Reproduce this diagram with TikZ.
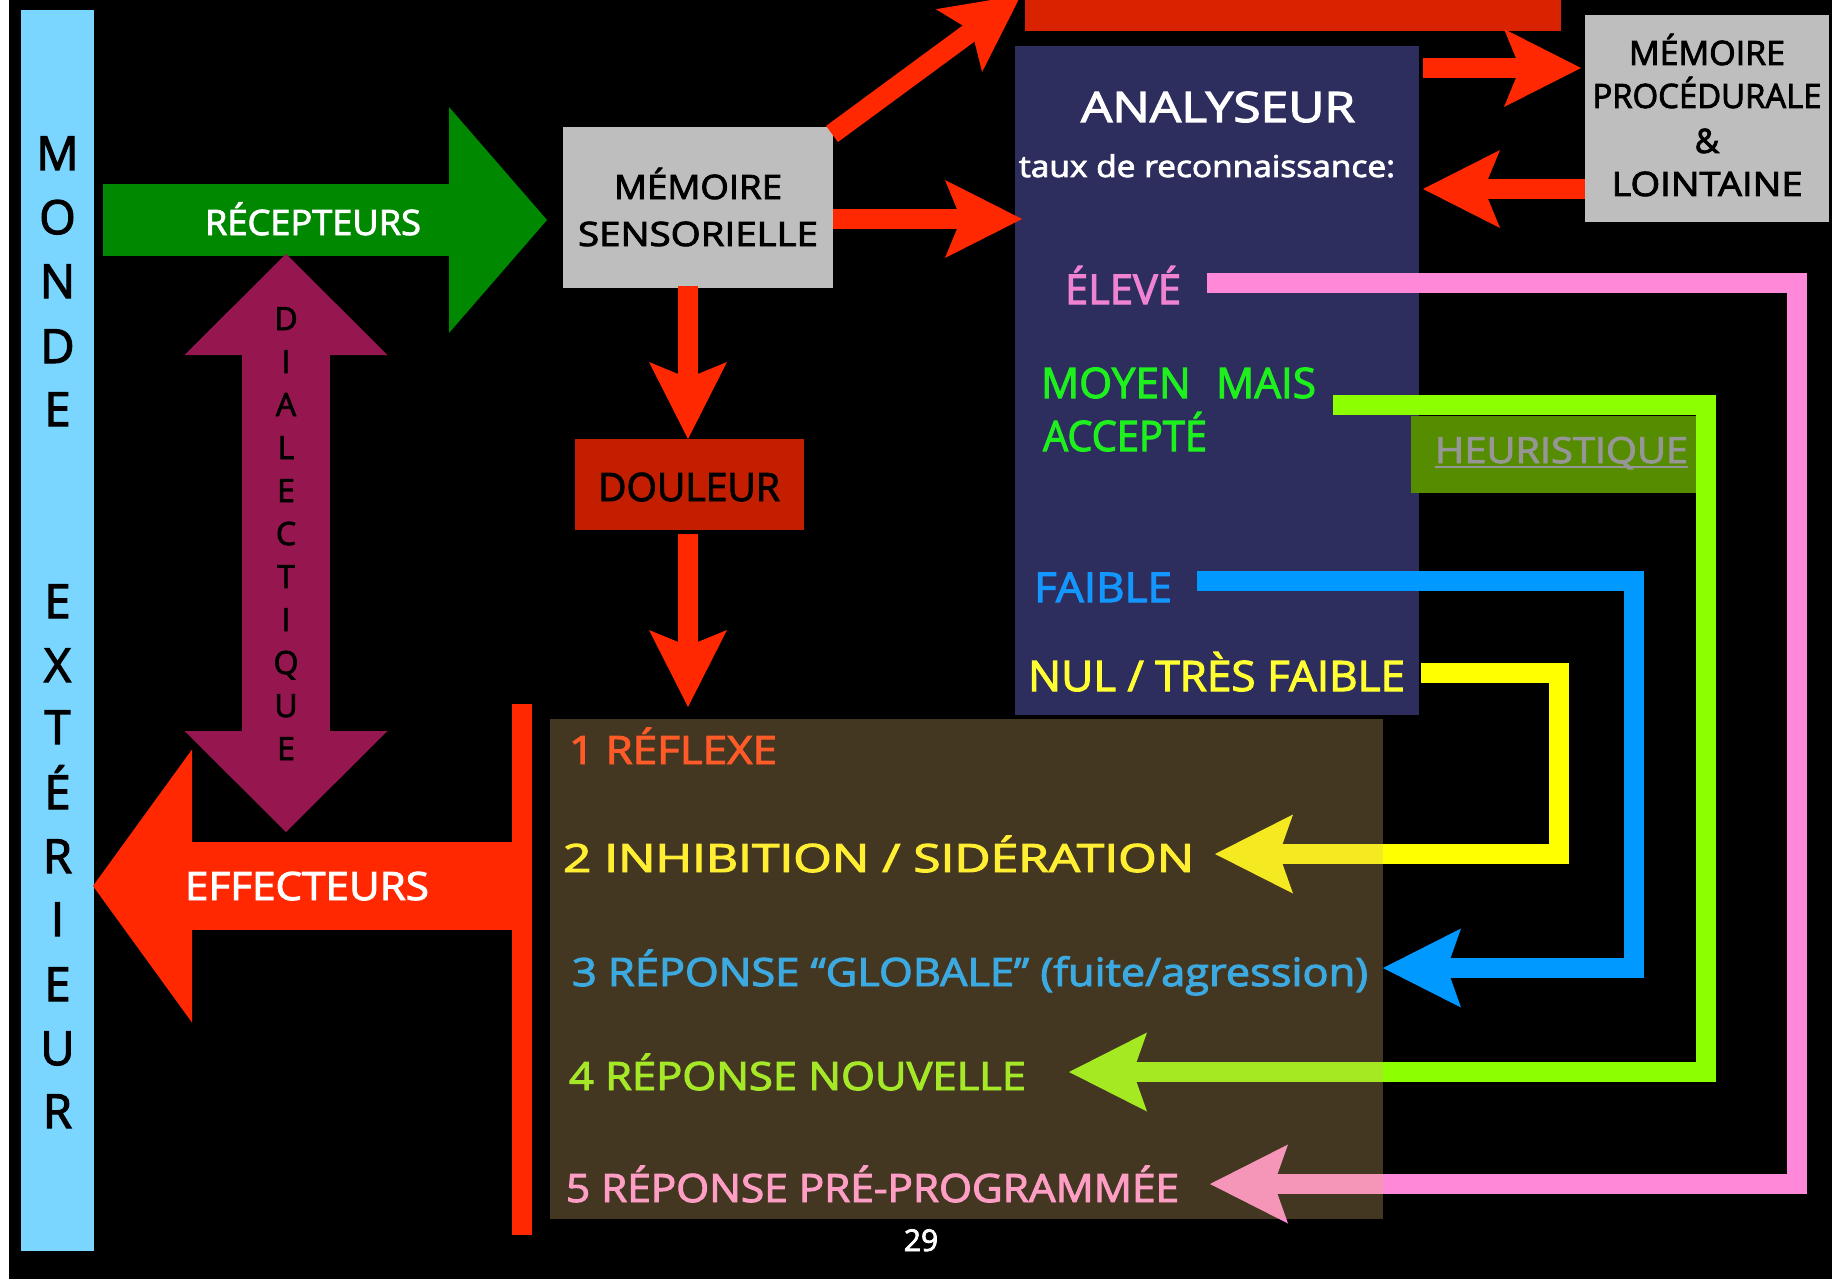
\documentclass[tikz,border=0pt]{standalone}
\usepackage{fontspec}
\setmainfont{Open Sans}[FakeBold=2.5]
\usepackage{graphicx}
\usetikzlibrary{arrows.meta,calc}
\definecolor{cblue}{RGB}{122,214,255}
\definecolor{cgreenA}{RGB}{0,136,0}
\definecolor{cgray}{RGB}{190,190,190}
\definecolor{cred}{RGB}{255,40,0}
\definecolor{cdoul}{RGB}{196,30,0}
\definecolor{ctop}{RGB}{217,35,0}
\definecolor{canal}{RGB}{46,46,94}
\definecolor{cpurple}{RGB}{150,22,80}
\definecolor{cpink}{RGB}{255,136,216}
\definecolor{clime}{RGB}{140,255,0}
\definecolor{cazure}{RGB}{0,153,255}
\definecolor{cyell}{RGB}{255,255,0}
\definecolor{cheur}{RGB}{85,140,0}
\definecolor{cheurt}{RGB}{150,150,150}
\definecolor{cbrown}{RGB}{223,183,113}
\definecolor{tpink}{RGB}{240,130,210}
\definecolor{tgreen}{RGB}{30,240,30}
\definecolor{tblue}{RGB}{20,150,255}
\definecolor{tyell}{RGB}{255,255,50}
\definecolor{rOne}{RGB}{255,90,40}
\definecolor{rTwo}{RGB}{255,238,50}
\definecolor{rThree}{RGB}{60,170,225}
\definecolor{rFour}{RGB}{165,232,40}
\definecolor{rFive}{RGB}{255,158,196}
\newcommand\fw[2]{\resizebox{#1pt}{\height}{#2}}
\begin{document}
\begin{tikzpicture}[x=1pt,y=-1pt,
  txt/.style={font=\fontsize{#1}{#1}\selectfont, inner sep=0pt, outer sep=0pt, anchor=base},
  ltxt/.style={txt=#1, anchor=base west},
  blk/.style={inner sep=0pt, outer sep=0pt, draw=none},
  redarr/.style={color=cred, line width=20pt, -{Stealth[length=77pt,width=78pt,inset=16pt,line width=0pt]}},
  lvl/.style={line width=20pt, line join=miter, -{Stealth[length=78pt,width=79pt,inset=14pt,line width=0pt]}},
  fatarr/.style args={#1/#2/#3}{line width=#1pt, -{Triangle[length=#2pt,width=#3pt,line width=0pt]}},
]
\useasboundingbox (0,0) rectangle (1832,1279);
\clip (0,0) rectangle (1832,1279);
\fill[black] (0,0) rectangle (1832,1279);
\fill[white] (0,0) rectangle (9,1279);

% MONDE EXTERIEUR
\node[blk, fill=cblue, minimum width=73pt, minimum height=1241pt] (monde) at (57.5,630.5) {};
\foreach \l/\b [count=\i] in {M/170, O/234, N/298, D/363, E/426, E/618, X/682, T/744, É/809, R/873, I/936, E/1001, U/1065, R/1128}
  \node[txt=47, text=black] (mw\i) at (57.5,\b) {\l};

% RECEPTEURS
\coordinate (recS) at (103,220);
\coordinate (recT) at (547,220);
\draw[cgreenA, fatarr=72/98/226] (recS) -- (recT);
\node[txt=35, text=white] (rec) at (313,235) {\fw{216}{RÉCEPTEURS}};

% DIALECTIQUE
\coordinate (dialB) at (286,832);
\coordinate (dialT) at (286,254);
\draw[cpurple, line width=88pt, {Triangle[length=101pt,width=203pt,line width=0pt]}-{Triangle[length=101pt,width=203pt,line width=0pt]}] (dialB) -- (dialT);
\foreach \l/\b [count=\i] in {D/330, I/373, A/416, L/459, E/502, C/545, T/588, I/631, Q/674, U/717, E/760}
  \node[txt=32, text=black] (dl\i) at (286,\b) {\l};

% EFFECTEURS
\node[blk, fill=cred, minimum width=20pt, minimum height=531pt] (rbar) at (522,969.5) {};
\coordinate (effS) at (512,886);
\coordinate (effT) at (93,886);
\draw[cred, fatarr=88/99/273] (effS) -- (effT);
\node[txt=39, text=white] (eff) at (307,900) {\fw{244}{EFFECTEURS}};

% boxes
\node[blk, fill=cgray, minimum width=270pt, minimum height=161pt] (ms) at (698,207.5) {};
\node[blk, fill=cdoul, minimum width=229pt, minimum height=91pt] (dou) at (689.5,484.5) {};
\node[blk, fill=ctop, minimum width=536pt, minimum height=36pt] (top) at (1293,13) {};
\node[blk, fill=canal, minimum width=404pt, minimum height=669pt] (an) at (1217,380.5) {};
\node[blk, fill=cgray, minimum width=244pt, minimum height=207pt] (mp) at (1707,118.5) {};
\node[blk, fill=cheur, minimum width=285pt, minimum height=77pt] (heur) at (1553,454.5) {};

% red connectors
\coordinate (diagS) at (832,134);
\coordinate (diagT) at (1021,-5);
\draw[redarr] (diagS) -- (diagT);
\coordinate (msR) at (833,219);
\coordinate (anL) at (1022,219);
\draw[redarr] (msR) -- (anL);
\coordinate (anR) at (1423,68);
\coordinate (mpL) at (1581,68);
\draw[redarr] (anR) -- (mpL);
\coordinate (mpL2) at (1585,189);
\coordinate (anR2) at (1423,189);
\draw[redarr] (mpL2) -- (anR2);
\coordinate (msB) at (688,286);
\coordinate (douT) at (688,439);
\draw[redarr] (msB) -- (douT);
\coordinate (douB) at (688,534);
\coordinate (respT) at (688,707);
\draw[redarr] (douB) -- (respT);

% level lines
\coordinate (pkS) at (1207,283);
\coordinate (pkC) at (1797,1184);
\coordinate (pkT) at (1210,1184);
\draw[lvl, cpink] (pkS) -| (pkC) -- (pkT);
\coordinate (grS) at (1333,405);
\coordinate (grC) at (1706,1072);
\coordinate (grT) at (1069,1072);
\draw[lvl, clime] (grS) -| (grC) -- (grT);
\coordinate (blS) at (1197,581);
\coordinate (blC) at (1634,968);
\coordinate (blT) at (1383,968);
\draw[lvl, cazure] (blS) -| (blC) -- (blT);
\coordinate (ylS) at (1421,673);
\coordinate (ylC) at (1559,854);
\coordinate (ylT) at (1215,854);
\draw[lvl, cyell] (ylS) -| (ylC) -- (ylT);

% response overlay
\node[blk, fill=cbrown, fill opacity=0.3, minimum width=833pt, minimum height=500pt] (resp) at (966.5,969) {};

% texts in boxes
\node[txt=33.6] (ms1) at (698,199) {\fw{168}{MÉMOIRE}};
\node[txt=33.6] (ms2) at (698,246) {\fw{240}{SENSORIELLE}};
\node[txt=39] (dou1) at (689,501) {\fw{182}{DOULEUR}};
\node[txt=33.6] (mp1) at (1707,65) {\fw{156}{MÉMOIRE}};
\node[txt=33.6] (mp2) at (1707,108) {\fw{229}{PROCÉDURALE}};
\node[txt=33.6] (mp3) at (1707,153) {\&};
\node[txt=33.6] (mp4) at (1707,196) {\fw{191}{LOINTAINE}};

\node[txt=42, text=white] (an1) at (1218,122) {\fw{274}{ANALYSEUR}};
\node[txt=30, text=white] (an2) at (1207,177) {\fw{376}{taux de reconnaissance:}};
\node[txt=41, text=tpink] (lv1) at (1123,304) {\fw{116}{ÉLEVÉ}};
\node[ltxt=42, text=tgreen] (lv2) at (1041,398) {\fw{275}{MOYEN\hspace{0.6em}MAIS}};
\node[ltxt=42, text=tgreen] (lv3) at (1043,451) {\fw{164}{ACCEPTÉ}};
\node[ltxt=41, text=tblue] (lv4) at (1034,602) {\fw{138}{FAIBLE}};
\node[ltxt=42, text=tyell] (lv5) at (1028,691) {\fw{377}{NUL / TRÈS FAIBLE}};

\node[ltxt=36, text=cheurt] (heurt) at (1435,463) {\fw{253}{HEURISTIQUE}};
\draw[cheurt, line width=2pt] (heurt.base west) ++(0,4) coordinate (ulS) -- ++(253,0) coordinate (ulE);

% responses
\node[ltxt=39, text=rOne] (r1) at (569,764) {\fw{208}{1 RÉFLEXE}};
\node[ltxt=39, text=rTwo] (r2) at (563,872) {\fw{631}{2 INHIBITION / SIDÉRATION}};
\node[ltxt=39, text=rThree] (r3) at (572,986) {\fw{796}{3 RÉPONSE “GLOBALE” (fuite/agression)}};
\node[ltxt=39, text=rFour] (r4) at (569,1090) {\fw{457}{4 RÉPONSE NOUVELLE}};
\node[ltxt=39, text=rFive] (r5) at (566,1202) {\fw{613}{5 RÉPONSE PRÉ-PROGRAMMÉE}};

\node[txt=30, text=white] (pg) at (921,1251) {29};
\end{tikzpicture}
\end{document}
